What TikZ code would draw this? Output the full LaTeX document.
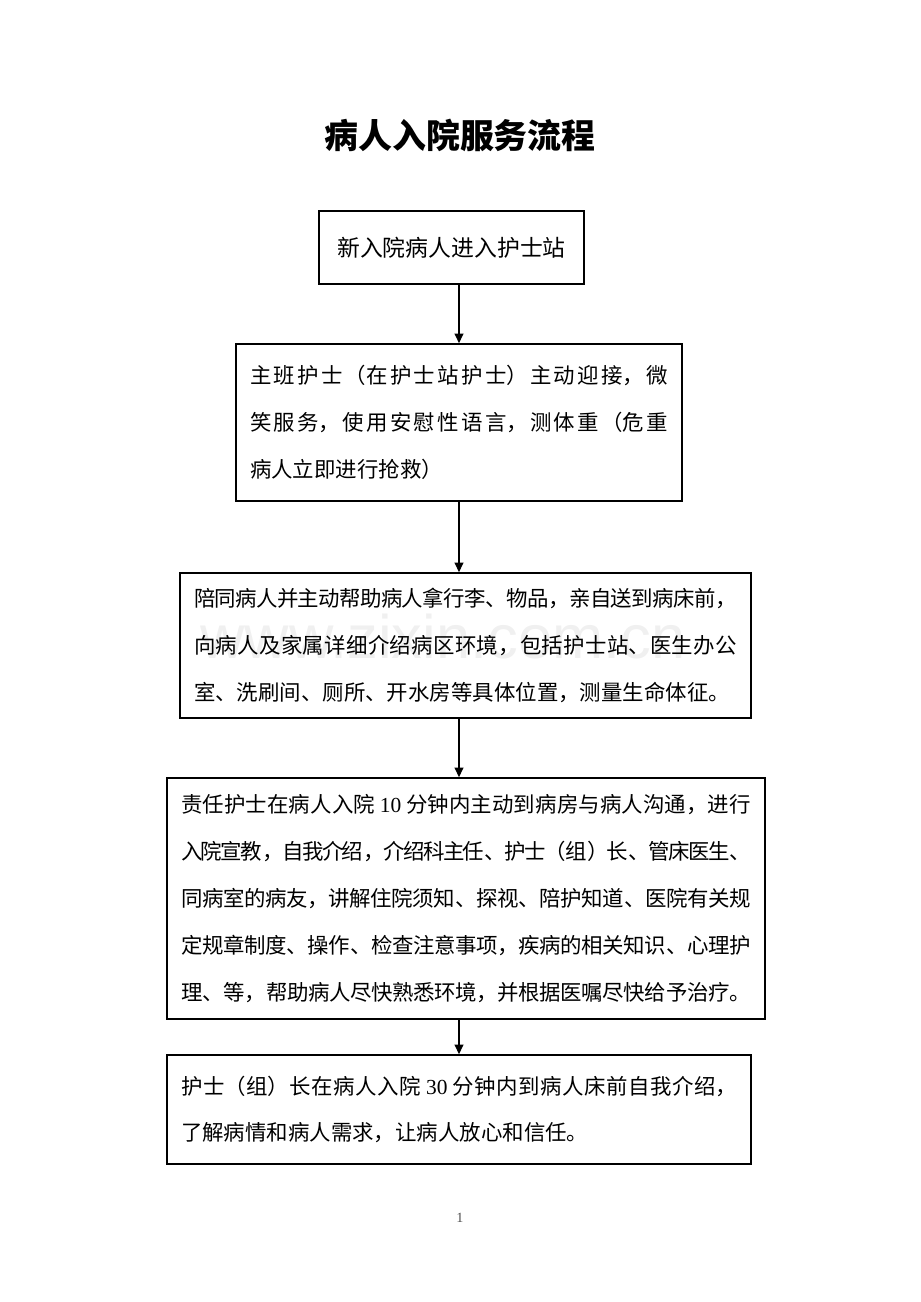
\documentclass[tikz,border=0pt]{standalone}
\usepackage{fontspec}
\setmainfont{Liberation Serif}
\setsansfont{Liberation Sans}
\newfontfamily\cjk{Noto Sans CJK SC}
\usetikzlibrary{arrows.meta}
\XeTeXlinebreaklocale "zh"
\XeTeXlinebreakskip=0pt plus 3pt minus 1pt
\newcommand{\latn}[1]{{\rmfamily #1}}

\begin{document}
\begin{tikzpicture}[
    x=0.02cm, y=-0.02cm,
    box/.style={draw, line width=0.9pt, inner xsep=0.28cm, align=justify, font=\cjk\fontsize{12.2}{26.7}\selectfont},
    arrow/.style={-{Triangle[length=5.5pt, width=5pt]}, line width=0.85pt}
  ]
    \useasboundingbox (0,0) rectangle (920,1302);

    % Watermark
    \node[font=\sffamily\fontsize{35}{35}\selectfont, text=gray!12] (wmark) at (443,637) {www.zixin.com.cn};

    % Title
    \node[font=\cjk\bfseries\fontsize{19.3}{20}\selectfont] (title) at (460,135) {病人入院服务流程};

    % Flow
    \node[box, align=center, font=\cjk\fontsize{13}{26.7}\selectfont, minimum width=5.3cm, minimum height=1.46cm] (newpt) at (451.5,247.5) {新入院病人进入护士站};
    \node[box, text width=8.36cm, minimum height=3.14cm] (greet) at (459,422.5) {主班护士（在护士站护士）主动迎接，微\break 笑服务，使用安慰性语言，测体重（危重\break 病人立即进行抢救）};
    \node[box, text width=10.86cm, minimum height=2.9cm] (escort) at (465.5,645.5) {陪同病人并主动帮助病人拿行李、物品，亲自送到病床前，\break 向病人及家属详细介绍病区环境，包括护士站、医生办公\break 室、洗刷间、厕所、开水房等具体位置，测量生命体征。};
    \node[box, text width=11.4cm, minimum height=4.82cm] (respon) at (466,898.5) {责任护士在病人入院 \latn{10} 分钟内主动到病房与病人沟通，进行\break 入院宣教，自我介绍，介绍科主任、护士（组）长、管床医生、\break 同病室的病友，讲解住院须知、探视、陪护知道、医院有关规\break 定规章制度、操作、检查注意事项，疾病的相关知识、心理护\break 理、等，帮助病人尽快熟悉环境，并根据医嘱尽快给予治疗。};
    \node[box, text width=11.12cm, minimum height=2.18cm] (leader) at (459,1109.5) {护士（组）长在病人入院 \latn{30} 分钟内到病人床前自我介绍，\break 了解病情和病人需求，让病人放心和信任。};

    % Arrows
    \coordinate (axis) at (459,0);
    \draw[arrow] (newpt.south -| axis) -- (greet.north -| axis);
    \draw[arrow] (greet.south -| axis) -- (escort.north -| axis);
    \draw[arrow] (escort.south -| axis) -- (respon.north -| axis);
    \draw[arrow] (respon.south -| axis) -- (leader.north -| axis);

    % Page number
    \node[font=\fontsize{8}{8}\selectfont, text=black!70] (pageno) at (460,1218) {1};
\end{tikzpicture}
\end{document}
